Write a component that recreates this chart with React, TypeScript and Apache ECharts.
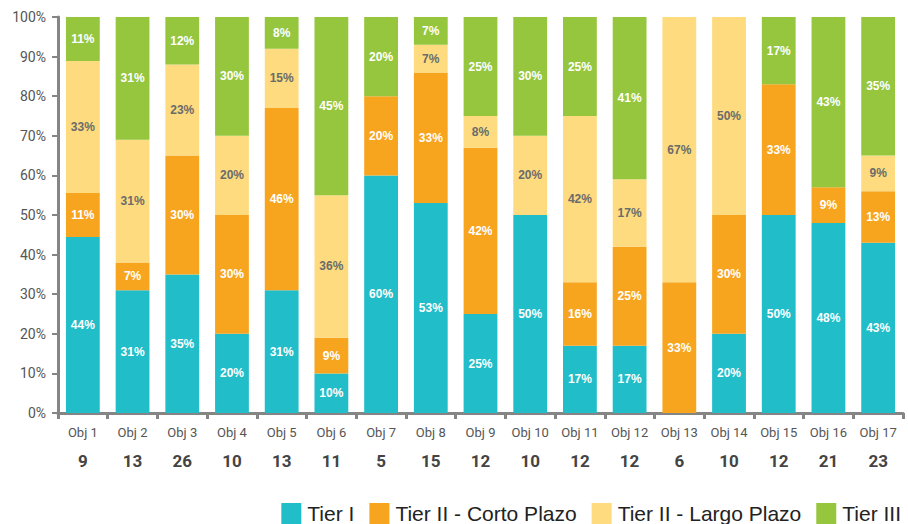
import React, { useEffect, useRef } from "react";
import * as echarts from "echarts";

const categories = [
  "Obj 1", "Obj 2", "Obj 3", "Obj 4", "Obj 5", "Obj 6", "Obj 7", "Obj 8", "Obj 9",
  "Obj 10", "Obj 11", "Obj 12", "Obj 13", "Obj 14", "Obj 15", "Obj 16", "Obj 17",
];
const totals = [9, 13, 26, 10, 13, 11, 5, 15, 12, 10, 12, 12, 6, 10, 12, 21, 23];

const tier1 = [44, 31, 35, 20, 31, 10, 60, 53, 25, 50, 17, 17, 0, 20, 50, 48, 43];
const tier2Corto = [11, 7, 30, 30, 46, 9, 20, 33, 42, 0, 16, 25, 33, 30, 33, 9, 13];
const tier2Largo = [33, 31, 23, 20, 15, 36, 0, 7, 8, 20, 42, 17, 67, 50, 0, 0, 9];
const tier3 = [11, 31, 12, 30, 8, 45, 20, 7, 25, 30, 25, 41, 0, 0, 17, 43, 35];

const seriesNames = ["Tier I", "Tier II - Corto Plazo", "Tier II - Largo Plazo", "Tier III"];
const seriesColors = ["#21BDC8", "#F7A51F", "#FDDB7E", "#95C63E"];
const labelColors = ["#ffffff", "#ffffff", "#6b6b6b", "#ffffff"];

export default function App() {
  const ref = useRef<HTMLDivElement>(null);

  useEffect(() => {
    document.body.style.margin = "0";
    if (!ref.current) return;
    const chart = echarts.init(ref.current, null, { renderer: "svg" });
    const raw = [tier1, tier2Corto, tier2Largo, tier3];
    const sums = categories.map((_, i) => raw.reduce((s, arr) => s + arr[i], 0));

    const series = raw.map((arr, k) => ({
      name: seriesNames[k],
      type: "bar",
      stack: "total",
      barCategoryGap: "32%",
      itemStyle: { color: seriesColors[k] },
      label: {
        show: true,
        position: "inside",
        color: labelColors[k],
        fontFamily: "Liberation Sans",
        fontWeight: "bold",
        fontSize: 12,
        formatter: (p: any) => (arr[p.dataIndex] ? arr[p.dataIndex] + "%" : ""),
      },
      data: arr.map((v, i) => (v / sums[i]) * 100),
    }));

    chart.setOption({
      animation: false,
      grid: { left: 58, right: 5, top: 17, bottom: 111, containLabel: false },
      legend: {
        right: 2,
        top: 498,
        itemWidth: 20,
        itemHeight: 21,
        itemGap: 15,
        icon: "rect",
        textStyle: {
          fontFamily: "Liberation Sans",
          fontSize: 21,
          lineHeight: 21,
          color: "#222",
          padding: [0, 0, 0, 1],
        },
        data: seriesNames,
      },
      xAxis: {
        type: "category",
        data: categories,
        axisLine: { lineStyle: { color: "#858585", width: 3 } },
        axisTick: { show: true, length: 6, lineStyle: { color: "#858585", width: 3 } },
        axisLabel: {
          margin: 8,
          interval: 0,
          formatter: (v: string, i: number) => `{a|${v}}\n{b|${totals[i]}}`,
          rich: {
            a: { fontFamily: "Roboto", fontSize: 13, color: "#555", lineHeight: 22 },
            b: { fontFamily: "Roboto", fontSize: 17, fontWeight: "bold", color: "#444", lineHeight: 36 },
          },
        },
      },
      yAxis: {
        type: "value",
        min: 0,
        max: 100,
        interval: 10,
        splitLine: { show: false },
        axisLine: { show: true, lineStyle: { color: "#858585", width: 3 } },
        axisTick: { show: true, length: 6, lineStyle: { color: "#858585", width: 2 } },
        axisLabel: {
          formatter: "{value}%",
          margin: 12,
          fontFamily: "Roboto",
          fontSize: 14,
          color: "#555",
        },
      },
      series,
    });

    return () => chart.dispose();
  }, []);

  return <div ref={ref} style={{ width: 908, height: 524 }} />;
}
